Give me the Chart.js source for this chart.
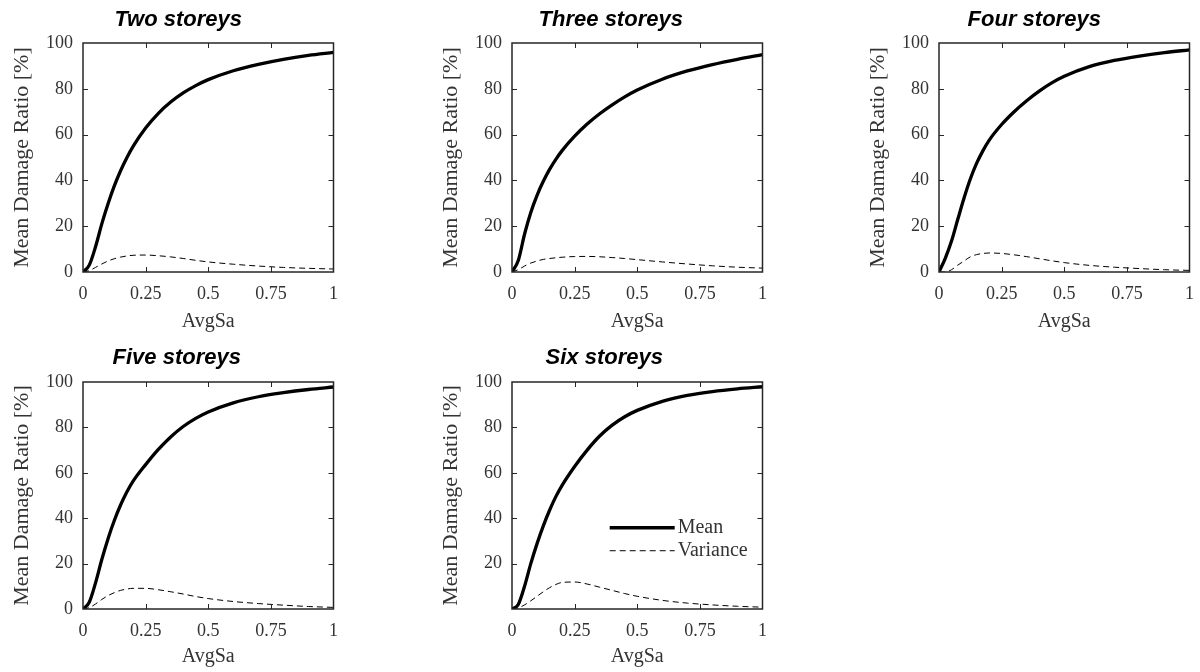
<!DOCTYPE html>
<html><head><meta charset="utf-8">
<script src="https://cdn.jsdelivr.net/npm/chart.js@4.4.1/dist/chart.umd.min.js"></script>
<style>
html,body{margin:0;padding:0;background:#fff;width:1200px;height:672px;overflow:hidden;position:relative}
canvas{position:absolute;display:block}
</style></head><body>
<canvas id="c0"></canvas><canvas id="c1"></canvas><canvas id="c2"></canvas><canvas id="c3"></canvas><canvas id="c4"></canvas>
<script>
// ---------- data ----------
const avgSa = [0, 0.025, 0.05, 0.075, 0.1, 0.125, 0.15, 0.175, 0.2, 0.25, 0.3, 0.35, 0.4, 0.45, 0.5, 0.6, 0.7, 0.8, 0.9, 1.0];
const titles = ['Two storeys', 'Three storeys', 'Four storeys', 'Five storeys', 'Six storeys'];
const meanTwo   = [0, 3, 11, 21, 29.8, 37.6, 44.2, 49.9, 54.9, 62.9, 69.2, 74.2, 78.2, 81.4, 84.0, 87.9, 90.7, 92.9, 94.6, 95.9];
const varTwo    = [0, 0.6, 2.0, 3.5, 4.8, 5.8, 6.5, 7.0, 7.3, 7.4, 7.1, 6.6, 5.9, 5.1, 4.4, 3.4, 2.6, 2.0, 1.6, 1.3];
const meanThree = [0, 5, 16.5, 26, 33.5, 39.6, 44.8, 49.2, 53.0, 59.3, 64.6, 69.1, 73.0, 76.5, 79.5, 84.2, 87.8, 90.6, 92.9, 94.9];
const varThree  = [0, 1.0, 2.6, 3.9, 4.8, 5.5, 5.9, 6.2, 6.45, 6.75, 6.8, 6.65, 6.3, 5.9, 5.4, 4.4, 3.5, 2.7, 2.1, 1.7];
const meanFour  = [0, 6, 13.5, 23, 32.3, 40.6, 47.4, 52.9, 57.5, 64.4, 70.0, 74.8, 79.0, 82.6, 85.5, 89.7, 92.4, 94.3, 95.8, 97.0];
const varFour   = [0, 0, 1.0, 3.0, 4.8, 6.6, 7.6, 8.1, 8.3, 8.1, 7.5, 6.7, 5.8, 4.9, 4.1, 2.9, 2.1, 1.5, 1.0, 0.7];
const meanFive  = [0, 3, 11.5, 21.8, 31, 39, 45.8, 51.5, 56.3, 63.6, 70.2, 75.8, 80.4, 84.0, 86.8, 90.8, 93.5, 95.3, 96.7, 97.8];
const varFive   = [0, 0.6, 2.2, 4.2, 5.9, 7.2, 8.2, 8.8, 9.1, 9.1, 8.5, 7.6, 6.6, 5.5, 4.6, 3.3, 2.4, 1.7, 1.1, 0.7];
const meanSix   = [0, 2, 10, 20, 28.8, 36.6, 43.5, 49.5, 54.5, 62.8, 70, 76.2, 81, 84.7, 87.5, 91.5, 94.1, 95.8, 97.0, 97.9];
const varSix    = [0, 0.5, 1.8, 3.6, 5.6, 7.6, 9.4, 10.8, 11.7, 11.9, 11.0, 9.6, 8.2, 6.8, 5.6, 3.8, 2.6, 1.8, 1.2, 0.8];
const xTickLabels = ['0', '0.25', '0.5', '0.75', '1'];
const yTickLabels = ['0', '20', '40', '60', '80', '100'];
const seriesNames = ['Mean', 'Variance'];
const xTitle = 'AvgSa';
const yTitle = 'Mean Damage Ratio [%]';

const meanSets = [meanTwo, meanThree, meanFour, meanFive, meanSix];
const varSets = [varTwo, varThree, varFour, varFive, varSix];

// ---------- layout (canvas geometry) ----------
const geom = [
  {left: 0,   top: 0,   w: 349, h: 336, padR: 15, padT: 43, titleY: 20,   titleDx: -30,   xH: 64, xPad: 2, hideY0: false, legend: false},
  {left: 429, top: 0,   w: 349, h: 336, padR: 15, padT: 43, titleY: 20,   titleDx: -26.5, xH: 64, xPad: 2, hideY0: false, legend: false},
  {left: 856, top: 0,   w: 349, h: 336, padR: 15, padT: 43, titleY: 20,   titleDx: -30,   xH: 64, xPad: 2, hideY0: false, legend: false},
  {left: 0,   top: 336, w: 349, h: 336, padR: 15, padT: 46, titleY: 21.5, titleDx: -31.5, xH: 63, xPad: 3, hideY0: false, legend: false},
  {left: 429, top: 336, w: 349, h: 336, padR: 15, padT: 46, titleY: 21.5, titleDx: -33,   xH: 63, xPad: 3, hideY0: true,  legend: true}
];

const INK = '#262626';
const TXT = '#333333';
const SERIF = '"Liberation Serif", "Times New Roman", serif';

const boxTicks = {
  id: 'boxTicks',
  afterDraw(chart) {
    const {ctx, chartArea: a, scales: {x, y}} = chart;
    ctx.save();
    ctx.strokeStyle = INK;
    ctx.lineWidth = 1;
    const L = 5;
    x.ticks.forEach(t => {
      if (t.value <= x.min || t.value >= x.max) return;
      const px = Math.round(x.getPixelForValue(t.value)) + 0.5;
      ctx.beginPath();
      ctx.moveTo(px, a.bottom); ctx.lineTo(px, a.bottom - L);
      ctx.moveTo(px, a.top); ctx.lineTo(px, a.top + L);
      ctx.stroke();
    });
    y.ticks.forEach(t => {
      if (t.value <= y.min || t.value >= y.max) return;
      const py = Math.round(y.getPixelForValue(t.value)) + 0.5;
      ctx.beginPath();
      ctx.moveTo(a.left, py); ctx.lineTo(a.left + L, py);
      ctx.moveTo(a.right, py); ctx.lineTo(a.right - L, py);
      ctx.stroke();
    });
    ctx.lineWidth = 1.5;
    ctx.strokeRect(a.left, a.top, a.right - a.left, a.bottom - a.top);
    ctx.restore();
  }
};

const panelTitle = {
  id: 'panelTitle',
  afterDraw(chart, args, opts) {
    if (!opts.text) return;
    const {ctx, chartArea: a} = chart;
    ctx.save();
    ctx.fillStyle = '#000';
    ctx.font = opts.font;
    ctx.textAlign = 'center';
    ctx.textBaseline = 'middle';
    ctx.fillText(opts.text, (a.left + a.right) / 2 + opts.dx, opts.y);
    ctx.restore();
  }
};

const lineLegend = {
  id: 'lineLegend',
  afterDraw(chart, args, opts) {
    if (!opts.display) return;
    const {ctx, chartArea: a} = chart;
    chart.data.datasets.forEach((ds, i) => {
      const yy = a.top + (a.bottom - a.top) * opts.y + i * opts.rowGap;
      const x0 = a.left + (a.right - a.left) * opts.x;
      ctx.save();
      ctx.strokeStyle = ds.borderColor;
      ctx.lineWidth = ds.borderWidth;
      ctx.setLineDash(ds.borderDash || []);
      ctx.beginPath(); ctx.moveTo(x0, yy); ctx.lineTo(x0 + opts.lineLen, yy); ctx.stroke();
      ctx.setLineDash([]);
      ctx.fillStyle = TXT;
      ctx.font = opts.font;
      ctx.textBaseline = 'middle';
      ctx.fillText(ds.label, x0 + opts.lineLen + 3, yy);
      ctx.restore();
    });
  }
};

Chart.register(boxTicks, panelTitle, lineLegend);

titles.forEach((title, k) => {
  const g = geom[k];
  const cv = document.getElementById('c' + k);
  cv.width = g.w; cv.height = g.h;
  cv.style.left = g.left + 'px'; cv.style.top = g.top + 'px';
  cv.style.width = g.w + 'px'; cv.style.height = g.h + 'px';
  new Chart(cv, {
    type: 'line',
    data: {
      datasets: [
        {label: seriesNames[0], data: avgSa.map((v, i) => ({x: v, y: meanSets[k][i]})),
         borderColor: '#000', borderWidth: 3.3, pointRadius: 0, cubicInterpolationMode: 'monotone', fill: false},
        {label: seriesNames[1], data: avgSa.map((v, i) => ({x: v, y: varSets[k][i]})),
         borderColor: '#000', borderWidth: 1, borderDash: [6, 4], pointRadius: 0, cubicInterpolationMode: 'monotone', fill: false}
      ]
    },
    options: {
      responsive: false,
      animation: false,
      devicePixelRatio: 1,
      layout: {padding: {left: 0, top: g.padT, bottom: 0, right: g.padR}},
      plugins: {
        legend: {display: false},
        tooltip: {enabled: false},
        title: {display: false},
        panelTitle: {text: title, dx: g.titleDx, y: g.titleY, font: 'italic bold 22px "Liberation Sans", Arial, sans-serif'},
        lineLegend: {display: g.legend, x: 0.39, y: 0.642, rowGap: 23, lineLen: 65, font: '20px ' + SERIF}
      },
      scales: {
        x: {
          type: 'linear', min: 0, max: 1,
          grid: {display: false, drawTicks: false},
          border: {display: false},
          ticks: {stepSize: 0.25, padding: 11, color: TXT, font: {family: SERIF, size: 18},
                  maxRotation: 0, callback: (v, i) => xTickLabels[i]},
          title: {display: true, text: xTitle, color: TXT, font: {family: SERIF, size: 20, lineHeight: 1.2},
                  padding: {top: 0, bottom: g.xPad}},
          afterFit: s => { s.height = g.xH; }
        },
        y: {
          type: 'linear', min: 0, max: 100,
          grid: {display: false, drawTicks: false},
          border: {display: false},
          ticks: {stepSize: 20, padding: 10, color: TXT, font: {family: SERIF, size: 18},
                  callback: (v, i) => (g.hideY0 && i === 0) ? '' : yTickLabels[i]},
          title: {display: true, text: yTitle, color: TXT, font: {family: SERIF, size: 22, lineHeight: 1.2},
                  padding: {top: 8.8, bottom: 0}},
          afterFit: s => { s.width = 83; }
        }
      }
    }
  });
});
</script>
</body></html>
